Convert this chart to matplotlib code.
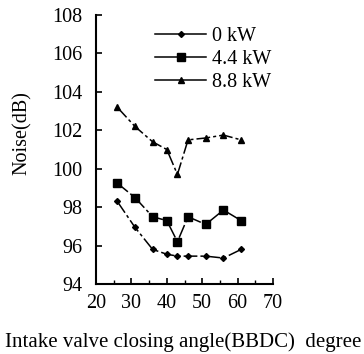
import matplotlib
matplotlib.use("Agg")
import matplotlib.pyplot as plt
from matplotlib.ticker import MultipleLocator

angle = [26, 31, 36, 40, 43, 46, 51, 56, 61]
noise_0kw = [98.3, 96.95, 95.8, 95.55, 95.45, 95.45, 95.45, 95.35, 95.8]
noise_44kw = [99.25, 98.5, 97.5, 97.3, 96.2, 97.5, 97.1, 97.85, 97.3]
noise_88kw = [103.2, 102.2, 101.4, 101.0, 99.7, 101.5, 101.6, 101.75, 101.5]
labels = ["0 kW", "4.4 kW", "8.8 kW"]

plt.rcParams["font.family"] = ["Liberation Serif", "DejaVu Serif"]
plt.rcParams["font.size"] = 14.5

fig = plt.figure(figsize=(3.64, 3.54), dpi=100)
ax = fig.add_axes([96 / 364, 1 - 284 / 354, 177 / 364, 269 / 354])

ls = (0, (9, 2, 2, 2))
ax.plot(angle, noise_0kw, color="k", lw=1.1, ls=ls, marker="D", ms=3, label=labels[0])
ax.plot(angle, noise_44kw, color="k", lw=1.1, ls=ls, marker="s", ms=5.5, label=labels[1])
ax.plot(angle, noise_88kw, color="k", lw=1.1, ls=ls, marker="^", ms=4.5, label=labels[2])

ax.set_xlim(20, 70)
ax.set_ylim(94, 108)
ax.xaxis.set_major_locator(MultipleLocator(10))
ax.xaxis.set_minor_locator(MultipleLocator(5))
ax.yaxis.set_major_locator(MultipleLocator(2))
ax.tick_params(direction="in", length=4, width=1.2)
ax.tick_params(axis="y", pad=10)
ax.tick_params(axis="x", pad=7)
ax.tick_params(which="minor", direction="in", length=3, width=1)
ax.tick_params(axis="y", which="minor", left=False)
ax.spines["top"].set_visible(False)
ax.spines["right"].set_visible(False)
ax.spines["left"].set_linewidth(1.5)
ax.spines["bottom"].set_linewidth(1.5)

ax.set_ylabel("Noise(dB)")
ax.yaxis.set_label_coords(-0.36, 0.56)
ax.set_xlabel("Intake valve closing angle(BBDC)  degree", fontsize=15)
ax.xaxis.set_label_coords(0.49, -0.18)

leg = ax.legend(loc="upper left", bbox_to_anchor=(0.29, 0.985), frameon=False,
                handlelength=2.5, handletextpad=0.3, labelspacing=0.2,
                borderaxespad=0)
for h in leg.legend_handles:
    h.set_linestyle("-")

fig.savefig("out.png", dpi=100)
